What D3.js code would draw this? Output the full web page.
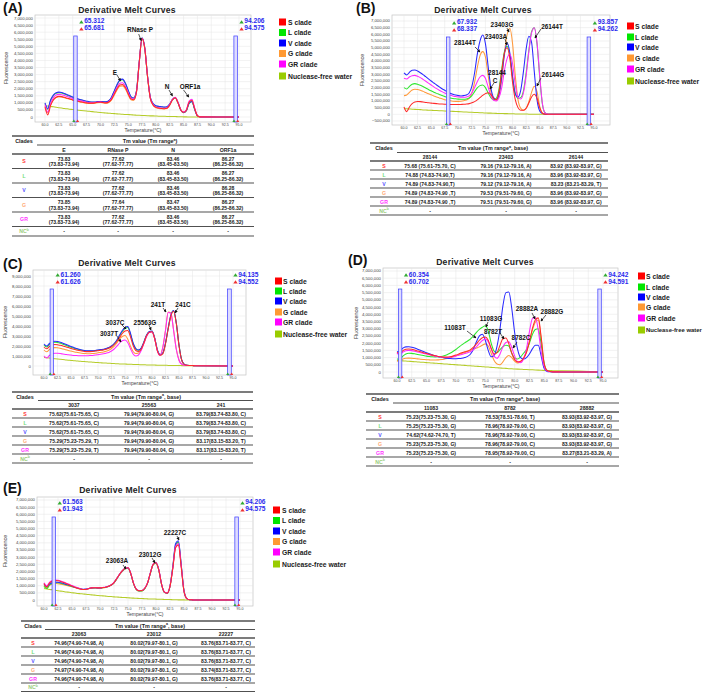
<!DOCTYPE html>
<html><head><meta charset="utf-8">
<script src="https://cdn.jsdelivr.net/npm/d3@7"></script>
<style>body{margin:0;background:#fff}svg{display:block}</style>
</head><body>
<svg id="c" width="709" height="692"></svg>
<script>
// ---------------- DATA ----------------
const temps = [60,60.5,61,61.5,62,62.5,63,63.5,64,64.5,
65,65.5,66,66.5,67,67.5,68,68.5,69,69.5,
70,70.5,71,71.5,72,72.5,73,73.5,74,74.5,
75,75.5,76,76.5,77,77.5,78,78.5,79,79.5,
80,80.5,81,81.5,82,82.5,83,83.5,84,84.5,
85,85.5,86,86.5,87,87.5,88,95];
const xTicks = [60,62.5,65,67.5,70,72.5,75,77.5,80,82.5,85,87.5,90,92.5,95];
const yTicksHalf = [0,0.5,1,1.5,2,2.5,3,3.5,4,4.5,5,5.5,6,6.5,7];
const yTicksB = [-0.5,0,0.5,1,1.5,2,2.5,3,3.5,4,4.5,5,5.5,6,6.5,7];
const yTicksC = [0,1,2,3,4,5,6,7,8,9];
const clades = ["S","L","V","G","GR","NC"];
const legendNames = ["S clade","L clade","V clade","G clade","GR clade","Nuclease-free water"];

// Panel A (values in millions)
const A_S = [0.70,0.15,0.80,1.20,1.40,1.46,1.44,1.39,1.33,1.27,
1.21,1.16,1.11,1.07,1.03,1.00,0.98,0.98,1.00,1.04,
1.05,1.02,1.00,1.06,1.25,1.62,2.00,2.26,2.30,2.08,
1.65,1.28,1.22,1.75,3.85,5.55,4.85,2.85,1.32,0.85,
0.68,0.63,0.60,0.59,0.62,0.85,1.22,1.36,1.00,0.50,
0.33,0.48,1.05,1.18,0.60,0.09,0.01,0.00];
const A_L = [0.95,0.55,1.15,1.50,1.68,1.72,1.70,1.63,1.55,1.47,
1.40,1.33,1.26,1.20,1.14,1.10,1.06,1.05,1.05,1.08,
1.09,1.07,1.06,1.13,1.38,1.82,2.27,2.58,2.64,2.37,
1.88,1.43,1.33,1.83,3.88,5.58,4.88,2.88,1.38,0.93,
0.78,0.74,0.71,0.69,0.71,0.90,1.23,1.36,1.00,0.49,
0.31,0.44,0.96,1.08,0.54,0.08,0.01,0.00];
const A_V = [1.00,0.60,1.20,1.55,1.72,1.76,1.73,1.66,1.58,1.50,
1.42,1.35,1.28,1.22,1.16,1.12,1.08,1.06,1.06,1.09,
1.10,1.08,1.07,1.15,1.40,1.85,2.30,2.62,2.68,2.40,
1.90,1.45,1.35,1.85,3.90,5.60,4.90,2.90,1.40,0.95,
0.80,0.76,0.73,0.70,0.72,0.92,1.25,1.38,1.02,0.50,
0.32,0.45,0.98,1.10,0.55,0.08,0.01,0.00];
const A_G = [0.78,0.28,0.85,1.20,1.38,1.43,1.42,1.37,1.31,1.25,
1.19,1.14,1.09,1.05,1.01,0.98,0.96,0.96,0.98,1.01,
1.02,0.99,0.97,1.03,1.20,1.55,1.92,2.17,2.20,1.98,
1.58,1.22,1.18,1.72,3.82,5.52,4.82,2.82,1.30,0.83,
0.66,0.61,0.58,0.57,0.60,0.83,1.20,1.34,0.98,0.48,
0.31,0.45,1.00,1.13,0.57,0.08,0.01,0.00];
const A_GR = [0.88,0.35,0.95,1.35,1.55,1.60,1.58,1.52,1.45,1.38,
1.31,1.25,1.19,1.14,1.09,1.05,1.02,1.01,1.02,1.05,
1.06,1.03,1.02,1.09,1.30,1.70,2.10,2.38,2.42,2.18,
1.73,1.33,1.27,1.78,3.87,5.57,4.87,2.87,1.35,0.88,
0.71,0.66,0.63,0.62,0.65,0.88,1.26,1.40,1.03,0.52,
0.35,0.52,1.12,1.26,0.64,0.10,0.01,0.00];
const A_NC = [0.80,0.78,0.75,0.72,0.69,0.66,0.63,0.60,0.58,0.55,
0.53,0.50,0.48,0.46,0.44,0.42,0.40,0.38,0.36,0.34,
0.32,0.30,0.28,0.27,0.25,0.24,0.22,0.21,0.19,0.18,
0.17,0.16,0.14,0.13,0.12,0.11,0.10,0.09,0.08,0.08,
0.07,0.06,0.06,0.05,0.04,0.04,0.03,0.03,0.02,0.02,
0.01,0.01,0.00,0.00,0.00,0.00,0.00,0.00];

// Panel B
const B_S = [0.55,0.20,0.55,0.80,0.93,0.96,0.95,0.92,0.89,0.86,
0.84,0.82,0.80,0.78,0.77,0.76,0.75,0.74,0.73,0.73,
0.73,0.74,0.75,0.77,0.80,0.86,0.95,1.08,1.25,1.42,
1.55,1.62,1.50,1.20,1.10,1.70,3.20,4.60,5.00,4.20,
2.40,1.10,0.50,0.30,0.30,0.45,0.85,1.30,1.50,1.20,
0.50,0.08,0.01,0.00,0.00,0.00,0.00,0.00];
const B_L = [2.00,1.90,2.10,2.25,2.30,2.26,2.18,2.08,1.97,1.86,
1.76,1.66,1.57,1.49,1.41,1.34,1.28,1.23,1.19,1.16,
1.14,1.13,1.13,1.15,1.22,1.40,1.70,1.98,2.15,2.20,
2.00,1.60,1.25,1.10,1.20,1.90,3.40,4.70,5.10,4.40,
2.80,1.60,1.20,1.25,1.75,3.10,4.80,6.20,6.50,5.30,
2.80,0.75,0.10,0.01,0.00,0.00,0.00,0.00];
const B_V = [3.10,2.95,3.15,3.30,3.32,3.25,3.12,2.98,2.82,2.66,
2.50,2.35,2.20,2.06,1.92,1.80,1.68,1.58,1.50,1.44,
1.40,1.38,1.40,1.45,1.60,2.10,3.10,4.50,5.50,5.95,
5.30,3.60,2.00,1.25,1.10,1.50,2.80,4.50,5.35,4.60,
2.80,1.50,1.30,1.80,3.20,4.90,5.85,5.40,3.20,1.10,
0.25,0.05,0.01,0.00,0.00,0.00,0.00,0.00];
const B_G = [1.40,1.45,1.65,1.82,1.88,1.86,1.80,1.72,1.63,1.54,
1.46,1.38,1.30,1.23,1.16,1.10,1.05,1.01,0.98,0.97,
0.97,0.98,1.02,1.08,1.20,1.60,2.40,3.50,4.40,4.70,
4.30,2.90,1.70,1.10,1.05,1.40,2.60,4.60,6.00,6.45,
5.30,2.90,1.10,0.45,0.30,0.45,0.95,1.65,2.10,1.70,
0.60,0.10,0.01,0.00,0.00,0.00,0.00,0.00];
const B_GR = [2.70,2.65,2.80,2.90,2.92,2.85,2.75,2.62,2.48,2.34,
2.20,2.06,1.93,1.81,1.70,1.60,1.51,1.44,1.38,1.33,
1.30,1.28,1.28,1.30,1.38,1.60,2.00,2.45,2.80,2.92,
2.70,2.05,1.40,1.05,1.00,1.25,2.00,3.30,4.20,4.50,
3.80,2.20,1.25,1.15,1.60,2.90,4.70,6.10,6.50,5.40,
2.90,0.80,0.10,0.01,0.00,0.00,0.00,0.00];
const B_NC = [0.42,0.41,0.40,0.38,0.37,0.36,0.35,0.33,0.32,0.31,
0.30,0.29,0.28,0.27,0.26,0.25,0.24,0.23,0.22,0.21,
0.20,0.19,0.18,0.17,0.16,0.15,0.14,0.13,0.12,0.11,
0.10,0.09,0.09,0.08,0.07,0.06,0.06,0.05,0.05,0.04,
0.04,0.03,0.03,0.02,0.02,0.02,0.01,0.01,0.01,0.00,
0.00,0.00,0.00,0.00,0.00,0.00,0.00,0.00];

// Panel C
const C_S = [1.90,1.72,1.95,2.10,2.15,2.13,2.07,2.00,1.92,1.84,
1.76,1.68,1.61,1.55,1.50,1.46,1.44,1.44,1.46,1.49,
1.53,1.57,1.61,1.67,1.77,1.92,2.15,2.45,2.85,3.25,
3.50,3.55,2.95,2.05,1.55,1.45,1.68,2.30,3.02,3.38,
3.42,2.72,1.52,1.08,1.22,2.20,3.70,5.00,5.48,4.25,
2.05,0.58,0.14,0.07,0.05,0.04,0.03,0.00];
const C_L = [2.10,1.90,2.15,2.32,2.37,2.34,2.27,2.18,2.08,1.98,
1.88,1.79,1.70,1.63,1.57,1.53,1.50,1.49,1.50,1.53,
1.57,1.61,1.65,1.71,1.82,1.97,2.22,2.55,3.03,3.45,
3.75,3.85,3.22,2.25,1.72,1.58,1.78,2.38,3.08,3.43,
3.48,2.78,1.58,1.13,1.28,2.28,3.78,5.08,5.52,4.28,
2.08,0.60,0.15,0.07,0.05,0.04,0.03,0.00];
const C_V = [2.20,2.00,2.25,2.42,2.47,2.44,2.37,2.28,2.18,2.07,
1.96,1.86,1.76,1.68,1.61,1.56,1.53,1.52,1.53,1.56,
1.60,1.64,1.68,1.74,1.85,2.00,2.25,2.60,3.10,3.55,
3.85,3.95,3.30,2.30,1.75,1.60,1.80,2.40,3.10,3.45,
3.50,2.80,1.60,1.15,1.30,2.30,3.80,5.10,5.55,4.30,
2.10,0.60,0.15,0.07,0.05,0.04,0.03,0.00];
const C_G = [1.60,1.42,1.65,1.80,1.84,1.82,1.77,1.70,1.63,1.56,
1.49,1.43,1.37,1.32,1.28,1.25,1.23,1.23,1.25,1.28,
1.32,1.36,1.40,1.47,1.58,1.75,1.98,2.30,2.70,2.95,
3.05,2.70,2.00,1.45,1.25,1.30,1.65,2.30,3.00,3.40,
3.45,2.75,1.55,1.10,1.90,3.60,5.40,5.30,3.60,1.70,
0.60,0.18,0.08,0.06,0.05,0.04,0.03,0.00];
const C_GR = [1.00,0.80,1.05,1.22,1.28,1.27,1.24,1.20,1.16,1.12,
1.09,1.06,1.04,1.03,1.02,1.02,1.03,1.04,1.06,1.09,
1.13,1.17,1.22,1.28,1.36,1.50,1.70,1.98,2.30,2.52,
2.60,2.35,1.75,1.20,1.00,1.10,1.55,2.25,2.95,3.35,
3.40,2.70,1.50,1.05,1.85,3.55,5.35,5.25,3.55,1.65,
0.58,0.17,0.08,0.06,0.05,0.04,0.03,0.00];
const C_NC = [0.85,0.82,0.79,0.76,0.73,0.70,0.67,0.64,0.61,0.58,
0.56,0.53,0.51,0.48,0.46,0.44,0.42,0.40,0.38,0.36,
0.34,0.32,0.30,0.29,0.27,0.26,0.24,0.23,0.21,0.20,
0.19,0.18,0.17,0.16,0.15,0.14,0.13,0.12,0.11,0.10,
0.10,0.09,0.08,0.08,0.07,0.07,0.06,0.06,0.05,0.05,
0.05,0.04,0.04,0.04,0.03,0.03,0.03,0.00];

// Panel D
const D_S = [1.35,1.30,1.48,1.58,1.60,1.57,1.52,1.46,1.40,1.34,
1.28,1.22,1.17,1.12,1.08,1.05,1.03,1.03,1.05,1.10,
1.17,1.25,1.33,1.40,1.45,1.55,1.72,1.95,2.20,2.38,
2.42,2.20,1.65,1.25,1.35,1.85,2.30,2.35,1.95,1.30,
0.85,0.70,0.75,0.95,1.35,2.10,3.00,3.60,3.75,2.40,
0.60,0.10,0.03,0.01,0.01,0.01,0.00,0.00];
const D_L = [0.90,0.88,1.10,1.25,1.30,1.29,1.26,1.22,1.18,1.14,
1.10,1.07,1.05,1.04,1.05,1.08,1.13,1.20,1.30,1.42,
1.56,1.72,1.88,2.02,2.15,2.30,2.50,2.75,2.95,3.10,
3.20,2.85,2.00,1.45,1.35,1.55,1.75,1.85,1.80,1.30,
0.95,0.90,1.05,1.30,1.55,2.00,2.60,2.95,3.00,1.90,
0.60,0.10,0.03,0.01,0.01,0.01,0.00,0.00];
const D_V = [1.40,1.45,1.65,1.74,1.75,1.72,1.66,1.58,1.50,1.42,
1.34,1.26,1.19,1.12,1.06,1.02,0.98,0.95,0.93,0.92,
0.92,0.93,0.95,1.00,1.08,1.25,1.60,2.10,2.50,2.62,
2.20,1.50,1.05,1.15,1.80,3.00,4.60,5.50,5.55,4.40,
2.70,1.55,1.00,0.90,1.00,1.25,1.60,1.85,1.85,1.10,
0.25,0.04,0.02,0.01,0.01,0.01,0.00,0.00];
const D_G = [0.75,0.80,0.90,0.95,0.96,0.95,0.93,0.91,0.89,0.87,
0.85,0.84,0.83,0.83,0.84,0.86,0.89,0.93,0.98,1.05,
1.12,1.20,1.28,1.35,1.42,1.50,1.58,1.66,1.74,1.86,
1.95,1.80,1.30,0.80,0.55,0.50,0.70,1.00,1.15,1.00,
0.75,0.62,0.70,0.95,1.40,2.10,2.90,3.45,3.60,2.30,
0.55,0.10,0.03,0.01,0.01,0.01,0.00,0.00];
const D_GR = [1.30,1.20,1.38,1.48,1.50,1.48,1.44,1.39,1.34,1.29,
1.24,1.19,1.14,1.10,1.07,1.04,1.02,1.01,1.02,1.05,
1.10,1.16,1.22,1.28,1.34,1.42,1.55,1.75,1.98,2.18,
2.28,2.10,1.60,1.10,0.95,1.25,1.75,2.05,2.10,1.70,
1.10,0.70,0.65,0.90,1.60,2.80,3.70,3.80,2.90,1.40,
0.40,0.08,0.03,0.01,0.01,0.01,0.00,0.00];
const D_NC = [0.80,0.79,0.77,0.76,0.74,0.73,0.71,0.70,0.68,0.67,
0.65,0.64,0.62,0.61,0.59,0.58,0.56,0.55,0.53,0.52,
0.50,0.49,0.47,0.46,0.44,0.43,0.41,0.40,0.38,0.37,
0.35,0.34,0.32,0.31,0.29,0.28,0.26,0.25,0.23,0.22,
0.21,0.20,0.19,0.18,0.17,0.16,0.15,0.14,0.13,0.12,
0.11,0.10,0.10,0.09,0.09,0.08,0.08,0.00];

// Panel E
const E_S = [1.15,0.90,1.20,1.32,1.36,1.34,1.29,1.22,1.14,1.06,
0.98,0.90,0.83,0.77,0.73,0.74,0.80,0.85,0.86,0.85,
0.85,0.87,0.90,0.96,1.05,1.22,1.50,1.80,2.05,2.22,
2.25,1.85,1.15,0.75,0.65,0.66,0.82,1.20,1.90,2.50,
2.60,2.10,1.10,0.55,0.48,0.95,2.20,3.65,3.85,2.30,
0.60,0.10,0.02,0.01,0.00,0.00,0.00,0.00];
const E_L = [0.95,0.80,1.05,1.18,1.21,1.20,1.17,1.12,1.07,1.01,
0.95,0.89,0.83,0.78,0.74,0.75,0.80,0.84,0.85,0.84,
0.84,0.86,0.89,0.95,1.04,1.20,1.48,1.78,2.02,2.18,
2.22,1.82,1.13,0.73,0.63,0.64,0.80,1.18,1.88,2.48,
2.58,2.08,1.08,0.53,0.46,0.95,2.30,3.85,4.05,2.45,
0.62,0.10,0.02,0.01,0.00,0.00,0.00,0.00];
const E_V = [1.10,0.95,1.12,1.22,1.25,1.24,1.20,1.15,1.09,1.03,
0.97,0.90,0.84,0.79,0.75,0.76,0.81,0.85,0.86,0.85,
0.85,0.87,0.90,0.96,1.05,1.22,1.50,1.80,2.05,2.22,
2.25,1.85,1.15,0.75,0.65,0.66,0.82,1.20,1.90,2.50,
2.62,2.12,1.10,0.55,0.48,0.98,2.35,3.95,4.15,2.50,
0.65,0.10,0.02,0.01,0.00,0.00,0.00,0.00];
const E_G = [1.00,0.85,1.02,1.12,1.15,1.14,1.11,1.07,1.02,0.97,
0.92,0.87,0.82,0.77,0.73,0.74,0.79,0.83,0.84,0.83,
0.83,0.85,0.88,0.94,1.03,1.20,1.48,1.78,2.02,2.18,
2.22,1.82,1.13,0.73,0.63,0.64,0.80,1.18,1.88,2.48,
2.58,2.08,1.08,0.53,0.46,0.95,2.25,3.75,3.95,2.40,
0.62,0.10,0.02,0.01,0.00,0.00,0.00,0.00];
const E_GR = [1.20,1.00,1.25,1.36,1.40,1.38,1.33,1.26,1.18,1.10,
1.01,0.93,0.85,0.79,0.74,0.75,0.81,0.86,0.87,0.86,
0.86,0.88,0.91,0.97,1.06,1.23,1.51,1.81,2.06,2.23,
2.26,1.86,1.16,0.76,0.66,0.67,0.83,1.21,1.91,2.52,
2.62,2.12,1.11,0.56,0.49,0.97,2.25,3.75,3.95,2.40,
0.62,0.10,0.02,0.01,0.00,0.00,0.00,0.00];
const E_NC = [0.80,0.77,0.74,0.71,0.68,0.65,0.62,0.59,0.56,0.54,
0.51,0.49,0.46,0.44,0.42,0.40,0.38,0.36,0.34,0.32,
0.30,0.29,0.27,0.25,0.24,0.22,0.21,0.19,0.18,0.17,
0.16,0.14,0.13,0.12,0.11,0.10,0.09,0.08,0.07,0.07,
0.06,0.05,0.05,0.04,0.03,0.03,0.02,0.02,0.01,0.01,
0.01,0.00,0.00,0.00,0.00,0.00,0.00,0.00];

// Marker (cursor) temperatures
const A_marks = [[65.312,65.681],[94.206,94.575]];
const B_marks = [[67.932,68.337],[93.857,94.262]];
const C_marks = [[61.260,61.626],[94.135,94.552]];
const D_marks = [[60.354,60.702],[94.242,94.591]];
const E_marks = [[61.563,61.943],[94.206,94.575]];

// Peak annotations: [text, temp, value, arrowFromT, arrowFromV, arrowToT, arrowToV]
const A_ann = [["E",72.63,3.18,72.99,2.97,73.62,2.55],["RNase P",77.14,6.22,76.9,5.87,77.35,5.4],
  ["N",82.0,2.19,82.37,1.91,83.0,1.49],["ORF1a",86.16,2.19,85.0,1.91,85.95,1.41]];
const B_ann = [["28144T",71.23,5.42,73.08,5.05,74.0,4.67],["23403G",78.05,6.7,78.97,6.47,79.34,6.17],
  ["23403A",76.94,5.87,78.6,5.65,78.97,5.2],["26144T",87.26,6.55,85.23,6.4,84.12,5.72],
  ["28144",77.13,3.1,null,null,null,null],["C",76.76,2.57,76.57,2.35,75.84,1.9],
  ["26144G",87.44,2.95,85.23,2.72,84.49,2.12]];
const C_ann = [["241T",81.11,6.2,82.04,5.8,82.6,5.4],["241C",85.74,6.2,84.81,5.8,84.26,5.3],
  ["3037C",73.15,4.4,74.44,4.1,75.19,3.7],["25563G",78.7,4.4,79.44,4.1,79.8,3.6],
  ["3037T",72.04,3.3,73.5,3.0,74.26,2.4]];
const D_ann = [["28882A",82.09,4.37,82.94,4.09,83.45,3.67],["28882G",86.33,4.16,85.31,3.95,84.46,3.53],
  ["11083G",75.97,3.74,75.46,3.47,75.12,3.12],["11083T",69.85,3.05,71.89,2.84,73.42,2.36],
  ["8782T",76.31,2.84,77.5,2.7,78.18,2.29],["8782C",81.07,2.36,80.39,2.08,79.71,1.66]];
const E_ann = [["22227C",83.39,4.69,83.75,4.48,84.1,4.2],["23012G",78.93,3.15,79.29,2.94,79.82,2.59],
  ["23063A",73.04,2.73,74.1,2.45,74.64,2.17]];

// Tables
const A_head = ["E","RNase P","N","ORF1a"];
const A_tab = [
 ["73.83|(73.83-73.94)","77.62|(77.62-77.77)","83.46|(83.45-83.50)","86.27|(86.25-86.32)"],
 ["73.83|(73.83-73.94)","77.62|(77.62-77.77)","83.46|(83.45-83.50)","86.27|(86.25-86.32)"],
 ["73.83|(73.83-73.94)","77.62|(77.62-77.77)","83.46|(83.45-83.50)","86.28|(86.25-86.32)"],
 ["73.85|(73.83-73.94)","77.64|(77.62-77.77)","83.47|(83.45-83.50)","86.27|(86.25-86.32)"],
 ["73.83|(73.83-73.94)","77.62|(77.62-77.77)","83.46|(83.45-83.50)","86.27|(86.25-86.32)"],
 ["-","-","-","-"]];
const B_head = ["28144","23403","26144"];
const B_tab = [
 ["75.68 (75.61-75.70, C)","79.16 (79.12-79.16, A)","83.92 (83.92-83.97, G)"],
 ["74.88 (74.83-74.90,T)","79.16 (79.12-79.16, A)","83.96 (83.92-83.97, G)"],
 ["74.89 (74.83-74.90,T)","79.12 (79.12-79.16, A)","83.23 (83.21-83.29, T)"],
 ["74.89 (74.83-74.90 ,T)","79.53 (79.51-79.60, G)","83.96 (83.92-83.97, G)"],
 ["74.89 (74.83-74.90 ,T)","79.51 (79.51-79.60, G)","83.96 (83.92-83.97, G)"],
 ["-","-","-"]];
const C_head = ["3037","25563","241"];
const C_tab = [
 ["75.62(75.61-75.65, C)","79.94(79.90-80.04, G)","83.79(83.74-83.80, C)"],
 ["75.62(75.61-75.65, C)","79.94(79.90-80.04, G)","83.79(83.74-83.80, C)"],
 ["75.62(75.61-75.65, C)","79.94(79.90-80.04, G)","83.79(83.74-83.80, C)"],
 ["75.29(75.23-75.29, T)","79.94(79.90-80.04, G)","83.17(83.15-83.20, T)"],
 ["75.29(75.23-75.29, T)","79.94(79.90-80.04, G)","83.17(83.15-83.20, T)"],
 ["-","-","-"]];
const D_head = ["11083","8782","28882"];
const D_tab = [
 ["75.23(75.23-75.30, G)","78.53(78.51-78.60, T)","83.93(83.92-83.97, G)"],
 ["75.25(75.23-75.30, G)","78.96(78.92-79.00, C)","83.93(83.92-83.97, G)"],
 ["74.62(74.62-74.70, T)","78.96(78.92-79.00, C)","83.93(83.92-83.97, G)"],
 ["75.23(75.23-75.30, G)","78.96(78.92-79.00, C)","83.93(83.92-83.97, G)"],
 ["75.23(75.23-75.30, G)","78.95(78.92-79.00, C)","83.27(83.21-83.29, A)"],
 ["-","-","-"]];
const E_head = ["23063","23012","22227"];
const E_tab = [
 ["74.96(74.90-74.98, A)","80.02(79.97-80.1, G)","83.76(83.71-83.77, C)"],
 ["74.96(74.90-74.98, A)","80.02(79.97-80.1, G)","83.76(83.71-83.77, C)"],
 ["74.96(74.90-74.98, A)","80.02(79.97-80.1, G)","83.76(83.71-83.77, C)"],
 ["74.97(74.90-74.98, A)","80.02(79.97-80.1, G)","83.74(83.71-83.77, C)"],
 ["74.96(74.90-74.98, A)","80.02(79.97-80.1, G)","83.76(83.71-83.77, C)"],
 ["-","-","-"]];

// ---------------- STYLE / LAYOUT ----------------
const FONT = "'Liberation Sans', Arial, Helvetica, sans-serif";
const lineColor = {S:"#ff2a2a",L:"#2ee62e",V:"#2a2aff",G:"#ff9a3c",GR:"#ff2aff",NC:"#b5cc2a"};
const legendColor = ["#ff0000","#00e600","#0000ff","#ff9933","#ff00ff","#99cc00"];
const tabColor = {S:"#ff3333",L:"#77dd77",V:"#5555ff",G:"#ffaa77",GR:"#ff33ff",NC:"#99cc77"};
const drawOrder = ["NC","G","L","V","GR","S"];

const panels = [
 {lab:"(A)",labX:3,labY:13,titleX:127,titleY:10,
  box:{x0:35,y0:15,x1:251,y1:122},xr:[45,239],y0px:117,ppm:14.14,yTicks:yTicksHalf,
  series:{S:A_S,L:A_L,V:A_V,G:A_G,GR:A_GR,NC:A_NC},marks:A_marks,markTop:5.73,ann:A_ann,
  fluo:[6,68],temp:[143,129.6],
  leg:{bx:279,tx:288,ys:[22,32.5,43,53.5,64,76]},
  tab:{x0:12,x1:254,cx:37,top:136,hdrY:141,partY:145,subY:150,bodyTop:154,rowH:14.5,ncH:9.5,
       cols:[64,118,173,228],cladeX:24,titleX:150,tail:")",head:A_head,rows:A_tab,two:true}},
 {lab:"(B)",labX:356,labY:13,titleX:483,titleY:10,
  box:{x0:392,y0:15,x1:610,y1:125},xr:[404,594],y0px:114.3,ppm:13.33,yTicks:yTicksB,
  series:{S:B_S,L:B_L,V:B_V,G:B_G,GR:B_GR,NC:B_NC},marks:B_marks,markTop:5.8,ann:B_ann,
  fluo:[362,70],temp:[501,132.6],
  leg:{bx:627,tx:635,ys:[26,37,47,58,69,81]},
  tab:{x0:370,x1:608,cx:397,top:143,hdrY:148,partY:152.5,subY:157,bodyTop:161,rowH:9,ncH:9,
       cols:[430,506,576],cladeX:384,titleX:493,tail:", base)",head:B_head,rows:B_tab,two:false}},
 {lab:"(C)",labX:3,labY:269,titleX:127,titleY:263,
  box:{x0:33,y0:270,x1:246,y1:375},xr:[44,233],y0px:366,ppm:10,yTicks:yTicksC,
  series:{S:C_S,L:C_L,V:C_V,G:C_G,GR:C_GR,NC:C_NC},marks:C_marks,markTop:7.7,ann:C_ann,
  fluo:[5,322],temp:[140,383],
  leg:{bx:275,tx:283,ys:[281,291,301,312,322,334]},
  tab:{x0:12,x1:253,cx:38,top:392,hdrY:396.5,partY:400.5,subY:405,bodyTop:409,rowH:9,ncH:9,
       cols:[74,149,221],cladeX:25,titleX:146,tail:", base)",head:C_head,rows:C_tab,two:false}},
 {lab:"(D)",labX:348,labY:265,titleX:485,titleY:262,
  box:{x0:383,y0:268,x1:618,y1:378},xr:[397,603],y0px:372,ppm:14.43,yTicks:yTicksHalf,
  series:{S:D_S,L:D_L,V:D_V,G:D_G,GR:D_GR,NC:D_NC},marks:D_marks,markTop:5.75,ann:D_ann,
  fluo:[356,323],temp:[501,386],
  leg:{bx:638,tx:646,ys:[276,287,297,307,318,330]},
  tab:{x0:366,x1:619,cx:393,top:394,hdrY:399,partY:403,subY:407.5,bodyTop:412,rowH:9,ncH:9,
       cols:[431,510,587],cladeX:380,titleX:505,tail:", base)",head:D_head,rows:D_tab,two:false}},
 {lab:"(E)",labX:3,labY:493,titleX:128,titleY:490,
  box:{x0:37,y0:497,x1:253,y1:606},xr:[44,240],y0px:600,ppm:14.29,yTicks:yTicksHalf,
  series:{S:E_S,L:E_L,V:E_V,G:E_G,GR:E_GR,NC:E_NC},marks:E_marks,markTop:5.81,ann:E_ann,
  fluo:[5,551],temp:[145,613.5],
  leg:{bx:273,tx:282,ys:[510,520.5,531,541.5,552,564]},
  tab:{x0:21,x1:255,cx:45,top:621,hdrY:625.5,partY:629.5,subY:634,bodyTop:638,rowH:9,ncH:8.5,
       cols:[79,154,226],cladeX:33,titleX:150,tail:", base)",head:E_head,rows:E_tab,two:false}}
];

// ---------------- DRAW ----------------
const svg = d3.select("#c").style("font-family",FONT);
const defs = svg.append("defs");
defs.append("marker").attr("id","arr").attr("viewBox","0 0 6 6").attr("refX",5).attr("refY",3)
  .attr("markerWidth",3.2).attr("markerHeight",3.2).attr("markerUnits","userSpaceOnUse")
  .attr("orient","auto").append("path").attr("d","M0,0L6,3L0,6Z").attr("fill","#111");

const fmtY = v => d3.format(",")(Math.round(v*1e6));
const fmtX = d3.format(".1f");

panels.forEach((p,pi) => {
  const g = svg.append("g");
  const x = d3.scaleLinear().domain([60,95]).range(p.xr);
  const y = d3.scaleLinear().domain([0,1]).range([p.y0px,p.y0px-p.ppm]);
  const b = p.box;

  g.append("text").attr("x",p.labX).attr("y",p.labY).attr("font-size",14).attr("font-weight","bold")
    .attr("fill","#111").text(p.lab);
  g.append("text").attr("x",p.titleX).attr("y",p.titleY).attr("text-anchor","middle")
    .attr("dominant-baseline","central").attr("font-size",8.6).attr("font-weight","bold")
    .attr("letter-spacing",0.25).attr("fill","#222").text("Derivative Melt Curves");

  g.append("rect").attr("x",b.x0).attr("y",b.y0).attr("width",b.x1-b.x0).attr("height",b.y1-b.y0)
    .attr("fill","#fff").attr("stroke","#c4c4c4").attr("stroke-width",0.7);
  const grid = g.append("g").attr("stroke","#e4e4e4").attr("stroke-width",0.5);
  grid.selectAll("line.v").data(xTicks).join("line").attr("class","v")
    .attr("x1",d=>x(d)).attr("x2",d=>x(d)).attr("y1",b.y0).attr("y2",b.y1);
  grid.selectAll("line.h").data(p.yTicks).join("line").attr("class","h")
    .attr("x1",b.x0).attr("x2",b.x1).attr("y1",d=>y(d)).attr("y2",d=>y(d));

  g.append("g").selectAll("text").data(p.yTicks).join("text")
    .attr("x",b.x0-2).attr("y",d=>y(d)).attr("text-anchor","end").attr("dominant-baseline","central")
    .attr("font-size",4.3).attr("fill","#444").text(fmtY);
  g.append("g").selectAll("text").data(xTicks).join("text")
    .attr("x",d=>x(d)).attr("y",b.y1+2.5).attr("text-anchor","middle").attr("dominant-baseline","central")
    .attr("font-size",3.6).attr("fill","#444").text(fmtX);
  g.append("text").attr("x",p.temp[0]).attr("y",p.temp[1]).attr("text-anchor","middle")
    .attr("dominant-baseline","central").attr("font-size",5).attr("fill","#444").text("Temperature(°C)");
  g.append("text").attr("transform",`translate(${p.fluo[0]},${p.fluo[1]}) rotate(-90)`)
    .attr("text-anchor","middle").attr("dominant-baseline","central").attr("font-size",5.4)
    .attr("fill","#444").text("Fluorescence");

  const cid = "clip"+pi;
  defs.append("clipPath").attr("id",cid).append("rect").attr("x",b.x0).attr("y",b.y0)
    .attr("width",b.x1-b.x0).attr("height",b.y1-b.y0);
  const line = d3.line().x((d,i)=>x(temps[i])).y(d=>y(d)).curve(d3.curveMonotoneX);
  const lg = g.append("g").attr("clip-path",`url(#${cid})`);
  drawOrder.forEach(k => {
    const arr = p.series[k];
    if (arr.length !== temps.length) console.error("length mismatch", p.lab, k, arr.length);
    lg.append("path").attr("d",line(arr)).attr("fill","none").attr("stroke",lineColor[k])
      .attr("stroke-width",1.05).attr("stroke-linejoin","round");
  });

  // cursor markers
  p.marks.forEach(m => {
    const xa = x(m[0])-0.7, xb = x(m[1])+0.7, top = y(p.markTop);
    g.append("rect").attr("x",xa).attr("y",top).attr("width",xb-xa).attr("height",b.y1-top)
      .attr("fill","#dedcff").attr("stroke","#3b3bff").attr("stroke-width",0.7);
    const lx = xb+7;
    g.append("path").attr("d",`M${lx-5},${top-12.5}l2.2,-3.2l2.2,3.2z`).attr("fill","#33aa33");
    g.append("path").attr("d",`M${lx-5},${top-5.5}l2.2,-3.2l2.2,3.2z`).attr("fill","#ee3333");
    g.append("text").attr("x",lx).attr("y",top-15).attr("dominant-baseline","central")
      .attr("font-size",6.6).attr("font-weight","bold").attr("fill","#2a2aee").text(m[0].toFixed(3));
    g.append("text").attr("x",lx).attr("y",top-8).attr("dominant-baseline","central")
      .attr("font-size",6.6).attr("font-weight","bold").attr("fill","#2a2aee").text(m[1].toFixed(3));
    g.append("path").attr("d",`M${xa-1.5},${b.y1}l1.6,-2.6l1.6,2.6z`).attr("fill","#33aa33");
    g.append("path").attr("d",`M${xb-1.2},${b.y1}l1.6,-2.6l1.6,2.6z`).attr("fill","#ee3333");
  });

  // annotations
  p.ann.forEach(a => {
    g.append("text").attr("x",x(a[1])).attr("y",y(a[2])).attr("text-anchor","middle")
      .attr("dominant-baseline","central").attr("font-size",6.4).attr("font-weight","bold")
      .attr("fill","#111").text(a[0]);
    if (a[3] !== null) {
      g.append("line").attr("x1",x(a[3])).attr("y1",y(a[4])).attr("x2",x(a[5])).attr("y2",y(a[6]))
        .attr("stroke","#111").attr("stroke-width",0.7).attr("marker-end","url(#arr)");
    }
  });

  // legend
  legendNames.forEach((n,i) => {
    g.append("rect").attr("x",p.leg.bx).attr("y",p.leg.ys[i]-3.5).attr("width",7).attr("height",7)
      .attr("fill",legendColor[i]);
    const lt = g.append("text").attr("x",p.leg.tx).attr("y",p.leg.ys[i]).attr("dominant-baseline","central")
      .attr("font-size",6.8).attr("font-weight","bold").attr("fill","#222").text(n);
    const w = lt.node().getComputedTextLength();
    if (p.leg.tx + w > 702) lt.attr("font-size",6.8*(702-p.leg.tx)/w);
  });

  // table
  const t = p.tab;
  const tg = g.append("g").attr("font-weight","bold");
  const hl = (x0,x1,yy,w) => tg.append("line").attr("x1",x0).attr("x2",x1).attr("y1",yy).attr("y2",yy)
      .attr("stroke","#505050").attr("stroke-width",w);
  hl(t.x0,t.x1,t.top,1.3);
  hl(t.cx,t.x1,t.partY,1.1);
  hl(t.x0,t.x1,t.bodyTop,1.3);
  tg.append("text").attr("x",t.cladeX).attr("y",t.hdrY).attr("text-anchor","middle")
    .attr("dominant-baseline","central").attr("font-size",5.4).attr("fill","#222").text("Clades");
  const tt = tg.append("text").attr("x",t.titleX).attr("y",t.hdrY).attr("text-anchor","middle")
    .attr("dominant-baseline","central").attr("font-size",5.4).attr("fill","#222");
  tt.append("tspan").text("Tm value (Tm range");
  tt.append("tspan").attr("font-size",3.6).attr("dy",-1.5).text("a");
  tt.append("tspan").attr("dy",1.5).text(t.tail);
  t.head.forEach((h,j) => tg.append("text").attr("x",t.cols[j]).attr("y",t.subY).attr("text-anchor","middle")
    .attr("dominant-baseline","central").attr("font-size",5.2).attr("fill","#222").text(h));
  let yy = t.bodyTop;
  t.rows.forEach((r,i) => {
    const h = i === 5 ? t.ncH : t.rowH;
    const cy = yy + h/2;
    const lab = tg.append("text").attr("x",t.cladeX).attr("y",cy).attr("text-anchor","middle")
      .attr("dominant-baseline","central").attr("font-size",5.2).attr("fill",tabColor[clades[i]]);
    lab.append("tspan").text(clades[i]);
    if (clades[i] === "NC") lab.append("tspan").attr("font-size",3.4).attr("dy",-1.4).text("b");
    r.forEach((c,j) => {
      const parts = c.split("|");
      if (parts.length === 2) {
        [0,1].forEach(k => tg.append("text").attr("x",t.cols[j]).attr("y",yy + h*(k===0?0.32:0.7))
          .attr("text-anchor","middle").attr("dominant-baseline","central").attr("font-size",5.1)
          .attr("fill","#222").text(parts[k]));
      } else {
        tg.append("text").attr("x",t.cols[j]).attr("y",cy).attr("text-anchor","middle")
          .attr("dominant-baseline","central").attr("font-size",5.1).attr("fill","#222").text(parts[0]);
      }
    });
    yy += h;
    hl(t.x0,t.x1,yy,1.2);
  });
});
</script>
</body></html>
